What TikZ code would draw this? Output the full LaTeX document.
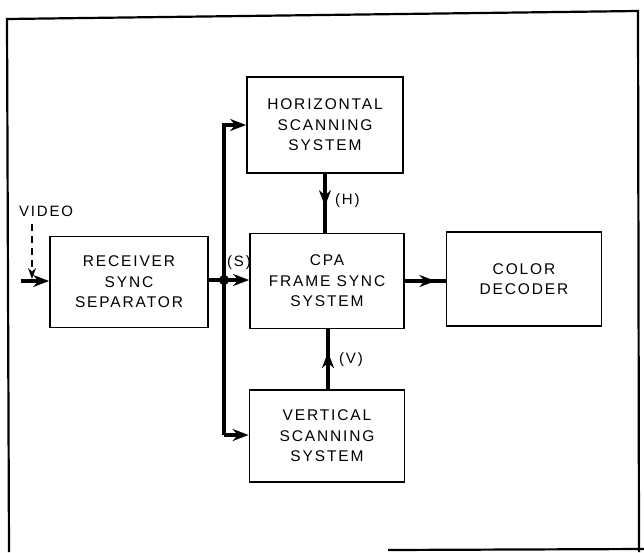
\documentclass[tikz,border=0pt]{standalone}
\usepackage{fontspec}
\setmainfont[LetterSpace=12]{Liberation Sans}
\usetikzlibrary{arrows.meta,decorations.markings}
\tikzset{
  blk/.style={draw, line width=1.8pt, minimum width=#1, inner sep=0pt, align=center,
    font=\fontsize{15.5}{20.5}\selectfont},
  blk/.default=155pt,
  wire/.style={line width=3.8pt},
  tip/.style={-{Stealth[length=16pt,width=12pt]}},
  midtip/.style={postaction={decorate}, decoration={markings,
    mark=at position #1 with {\arrow{Stealth[length=16pt,width=12pt]}}}},
  lbl/.style={font=\fontsize{15}{18}\selectfont, inner sep=1pt},
  frame/.style={line width=2.2pt}
}
\begin{document}
\begin{tikzpicture}[x=1pt,y=-1pt]
\useasboundingbox (0,0) rectangle (644,552);
% frame
\coordinate (f1) at (9,552);
\coordinate (f2) at (7,19);
\coordinate (f3) at (638,11);
\coordinate (f4) at (639,552);
\coordinate (f5) at (388,550);
\coordinate (f6) at (644,549);
\draw[frame] (f1) -- (f2) -- (f3) -- (f4);
\draw[frame] (f5) -- (f6);
% blocks
\node[blk=158pt, minimum height=91pt] (rec) at (129,282) {RECEIVER\\SYNC\\SEPARATOR};
\node[blk=156pt, minimum height=96pt] (hor) at (325,125) {HORIZONTAL\\SCANNING\\SYSTEM};
\node[blk=154pt, minimum height=95pt] (cpa) at (327,281) {CPA\\FRAME SYNC\\SYSTEM};
\node[blk=155pt, minimum height=92pt] (ver) at (327,436) {VERTICAL\\SCANNING\\SYSTEM};
\node[blk=155pt, minimum height=94pt] (col) at (524,279) {COLOR\\DECODER};
% bus
\coordinate (bt) at (224,125);
\coordinate (bb) at (224,435);
\coordinate (bj) at (224,280);
\coordinate (in) at (21,281);
\draw[wire,tip] (bb) -- (bt) -- (hor.west |- bt);
\draw[wire,tip] (bb) -- (ver.west |- bb);
\draw[wire,tip] (rec.east |- bj) -- (cpa.west |- bj);
\fill (bj) circle (5pt);
\node[lbl, anchor=south west] (s) at (226,271) {(S)};
% input
\draw[wire,tip] (in) -- (rec.west |- in);
\node[lbl, anchor=west] (vid) at (18,211) {VIDEO};
\coordinate (vd) at (32,224);
\coordinate (ve) at (32,279);
\draw[line width=1.4pt, dash pattern=on 7pt off 5pt, -{Stealth[length=11pt,width=8pt]}] (vd) -- (ve);
% H and V
\draw[wire, midtip=0.55] (hor.south) -- (cpa.north -| hor.south);
\node[lbl, anchor=west] (h) at (334,201) {(H)};
\draw[wire, midtip=0.62] (ver.north -| 328,0) -- (cpa.south -| 328,0);
\node[lbl, anchor=west] (v) at (338,360) {(V)};
% to color decoder
\draw[wire, midtip=0.75] (cpa.east |- 0,281) -- (col.west |- 0,281);
\end{tikzpicture}
\end{document}
